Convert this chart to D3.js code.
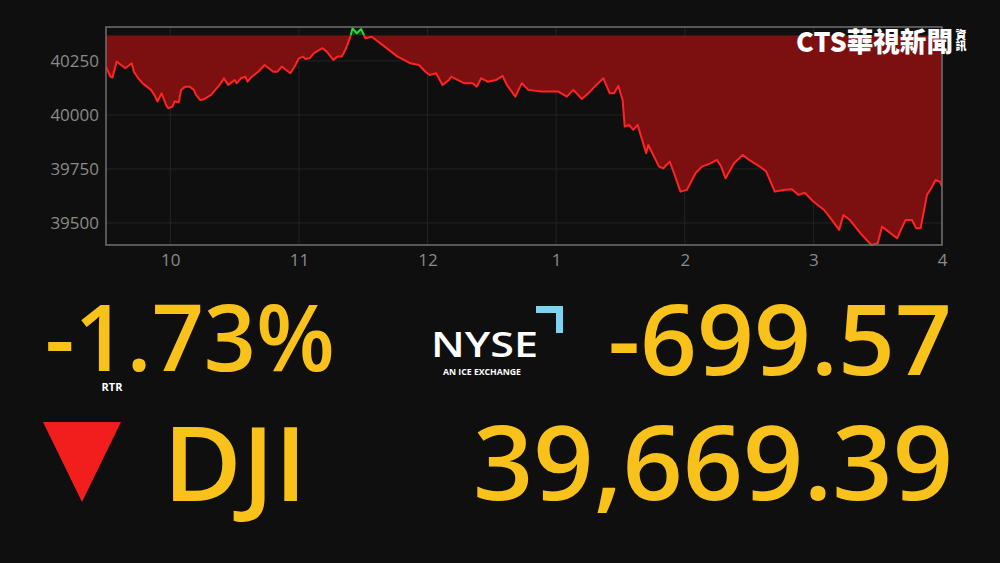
<!DOCTYPE html>
<meta charset="utf-8">
<style>
body { margin: 0; background: #0f0f0f; }
svg { display: block; }
.axis text { fill: #8a8a8a; font: 17px "Open Sans", sans-serif; }
.big { fill: #f9c21b; font-family: "Open Sans", sans-serif; font-weight: 600; }
</style>
<body>
<script src="https://d3js.org/d3.v7.min.js"></script>
<script>

// minutes after the 9:30 open, and Dow Jones level
var minutes = [0,2,3,5,7,8,9,10,12,13,15,17,18,21,23,24,26,28,29,31,32,34,35,37,39,41,42,44,46,49,
  51,53,55,57,59,60,61,63,65,66,68,71,74,76,78,80,82,84,86,88,90,92,93,95,97,101,103,106,108,110,
  112,114,115,117,119,121,124,127,130,133,136,139,142,146,149,151,154,157,160,161,164,167,171,173,175,178,
  182,185,187,191,194,197,203,211,215,218,222,225,228,232,235,237,239,241,242,244,246,248,252,253,258,260,
  263,265,268,271,275,278,282,285,287,289,293,297,300,305,308,312,316,320,323,326,330,335,338,342,344,347,
  352,357,360,362,364,369,373,376,378,380,383,385,387,389,390];
var dji = [40224,40177,40173,40247,40231,40224,40216,40224,40239,40200,40170,40147,40139,40116,40085,40062,40100,40046,40031,40038,
  40062,40059,40116,40131,40131,40116,40093,40069,40074,40093,40116,40139,40170,40139,40154,40162,40147,40170,40177,40154,
  40177,40200,40231,40216,40200,40200,40224,40208,40193,40224,40262,40270,40259,40262,40286,40309,40293,40255,40270,40270,
  40309,40362,40401,40378,40398,40355,40362,40339,40316,40293,40270,40255,40239,40231,40200,40185,40193,40139,40162,40177,
  40162,40147,40147,40131,40170,40154,40162,40181,40139,40085,40147,40116,40108,40108,40085,40116,40074,40100,40131,40170,
  40100,40100,40134,40069,39946,39954,39931,39954,39823,39861,39761,39753,39784,39730,39645,39653,39730,39761,39776,39792,
  39761,39707,39776,39815,39792,39761,39738,39645,39653,39656,39630,39640,39599,39560,39522,39468,39537,39514,39452,39398,
  39406,39483,39468,39429,39514,39514,39475,39475,39630,39661,39699,39691,39669];
var prevClose = 40368.96;

var yTicks = [39500, 39750, 40000, 40250];
var xTickMinutes = [30, 90, 150, 210, 270, 330, 390];
var xTickLabels = ["10", "11", "12", "1", "2", "3", "4"];

var data = minutes.map(function(m, i) { return {m: m, v: dji[i]}; });

var W = 1000, H = 563;
var plot = {left: 106, right: 942, top: 27, bottom: 245};

var svg = d3.select("body").append("svg")
    .attr("width", W)
    .attr("height", H);

var x = d3.scaleLinear().domain([0, 390]).range([plot.left, plot.right]);
var y = d3.scaleLinear().domain([39398, 40407]).range([plot.bottom, plot.top]);

// grid
svg.append("g").selectAll("line.h")
    .data(yTicks)
  .enter().append("line")
    .attr("x1", plot.left).attr("x2", plot.right)
    .attr("y1", function(d) { return y(d); }).attr("y2", function(d) { return y(d); })
    .attr("stroke", "#242424");
svg.append("g").selectAll("line.v")
    .data(xTickMinutes)
  .enter().append("line")
    .attr("y1", plot.top).attr("y2", plot.bottom)
    .attr("x1", function(d) { return x(d); }).attr("x2", function(d) { return x(d); })
    .attr("stroke", "#242424");

// clip regions below / above previous close
var defs = svg.append("defs");
defs.append("clipPath").attr("id", "below").append("rect")
    .attr("x", plot.left).attr("y", y(prevClose))
    .attr("width", plot.right - plot.left).attr("height", plot.bottom - y(prevClose) + 4);
defs.append("clipPath").attr("id", "above").append("rect")
    .attr("x", plot.left).attr("y", 0)
    .attr("width", plot.right - plot.left).attr("height", y(prevClose));

var area = d3.area()
    .x(function(d) { return x(d.m); })
    .y0(y(prevClose))
    .y1(function(d) { return y(d.v); });
var line = d3.line()
    .x(function(d) { return x(d.m); })
    .y(function(d) { return y(d.v); });

svg.append("path").datum(data)
    .attr("clip-path", "url(#below)")
    .attr("d", area)
    .attr("fill", "#7c0f0f");
svg.append("path").datum(data)
    .attr("clip-path", "url(#above)")
    .attr("d", area)
    .attr("fill", "#0d3a12");

svg.append("path").datum(data)
    .attr("clip-path", "url(#below)")
    .attr("d", line)
    .attr("fill", "none")
    .attr("stroke", "#ff2424")
    .attr("stroke-width", 2)
    .attr("stroke-linejoin", "round");
svg.append("path").datum(data)
    .attr("clip-path", "url(#above)")
    .attr("d", line)
    .attr("fill", "none")
    .attr("stroke", "#2fd33a")
    .attr("stroke-width", 2)
    .attr("stroke-linejoin", "round");

// frame
svg.append("rect")
    .attr("x", plot.left).attr("y", plot.top)
    .attr("width", plot.right - plot.left).attr("height", plot.bottom - plot.top)
    .attr("fill", "none")
    .attr("stroke", "#707070")
    .attr("stroke-width", 1.5);

// axes
var yAxis = svg.append("g")
    .attr("class", "axis")
    .attr("transform", "translate(" + (plot.left - 4) + ",0)")
    .call(d3.axisLeft(y).tickValues(yTicks).tickSize(0).tickFormat(d3.format("d")));
yAxis.select(".domain").remove();

var xAxis = svg.append("g")
    .attr("class", "axis")
    .attr("transform", "translate(0," + (plot.bottom + 6) + ")")
    .call(d3.axisBottom(x).tickValues(xTickMinutes).tickSize(0)
      .tickFormat(function(d, i) { return xTickLabels[i]; }));
xAxis.select(".domain").remove();

// CTS logo
var logo = svg.append("g").attr("fill", "#fff")
    .style("font-family", "'Noto Sans CJK TC', sans-serif").style("font-weight", 900);
logo.append("text").attr("x", 796).attr("y", 52)
    .style("font-size", "27px").attr("textLength", 157).attr("lengthAdjust", "spacingAndGlyphs")
    .text("CTS華視新聞");
logo.append("text").attr("x", 961).attr("y", 29)
    .style("font-size", "11px")
    .style("writing-mode", "vertical-rl")
    .text("資訊");

// big numbers
svg.append("text").attr("class", "big")
    .attr("x", 45).attr("y", 371)
    .style("font-size", "93px")
    .attr("textLength", 290).attr("lengthAdjust", "spacingAndGlyphs")
    .text("-1.73%");
svg.append("text")
    .attr("x", 112).attr("y", 391)
    .attr("text-anchor", "middle")
    .attr("fill", "#fff")
    .style("font", "bold 11px 'Open Sans', sans-serif")
    .text("RTR");

svg.append("text").attr("class", "big")
    .attr("x", 608).attr("y", 375)
    .style("font-size", "98px")
    .attr("textLength", 344).attr("lengthAdjust", "spacingAndGlyphs")
    .text("-699.57");
svg.append("text").attr("class", "big")
    .attr("x", 473).attr("y", 500)
    .style("font-size", "104px")
    .attr("textLength", 480).attr("lengthAdjust", "spacingAndGlyphs")
    .text("39,669.39");
svg.append("text").attr("class", "big")
    .attr("x", 163).attr("y", 501)
    .style("font-size", "104px")
    .attr("textLength", 144).attr("lengthAdjust", "spacingAndGlyphs")
    .text("DJI");

// down triangle
svg.append("path")
    .attr("d", "M43,422 L121,422 L82,502 Z")
    .attr("fill", "#f21d1d");

// NYSE logo
svg.append("text")
    .attr("x", 431).attr("y", 357)
    .attr("fill", "#fff")
    .style("font", "600 35px 'Open Sans', sans-serif")
    .attr("textLength", 107).attr("lengthAdjust", "spacingAndGlyphs")
    .text("NYSE");
svg.append("text")
    .attr("x", 443).attr("y", 375)
    .attr("fill", "#fff")
    .style("font", "bold 8.5px 'Open Sans', sans-serif")
    .attr("textLength", 78).attr("lengthAdjust", "spacingAndGlyphs")
    .text("AN ICE EXCHANGE");
svg.append("path")
    .attr("d", "M536,306 L563,306 L563,333 L556,333 L556,313 L536,313 Z")
    .attr("fill", "#7dd4f2");

</script>
</body>
